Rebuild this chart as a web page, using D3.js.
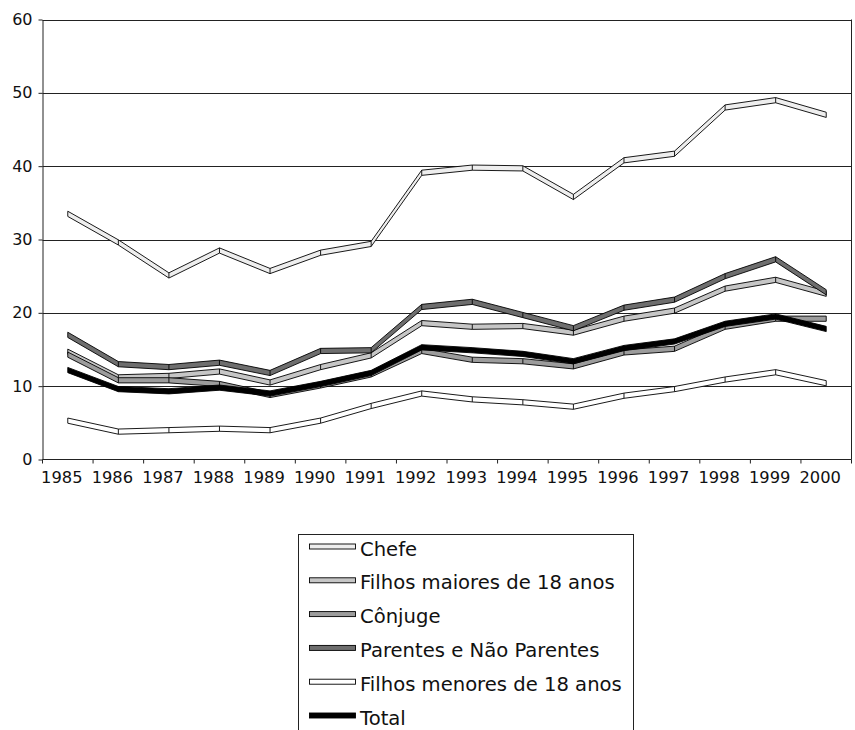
<!DOCTYPE html>
<html>
<head>
<meta charset="utf-8">
<script src="https://cdn.jsdelivr.net/npm/d3@7"></script>
<style>
  html, body { margin: 0; padding: 0; background: #fff; }
  svg { display: block; font-family: "DejaVu Sans", Verdana, sans-serif; }
</style>
</head>
<body>
<svg id="chart" width="855" height="730"></svg>
<script>
const years = ["1985","1986","1987","1988","1989","1990","1991","1992","1993","1994","1995","1996","1997","1998","1999","2000"];
const yTicks = [0, 10, 20, 30, 40, 50, 60];

const chefe          = [33.5, 29.6, 25.1, 28.5, 25.7, 28.2, 29.4, 39.1, 39.8, 39.7, 35.8, 40.8, 41.7, 48.0, 49.0, 47.0];
const filhosMaiores  = [14.7, 11.2, 11.4, 12.0, 10.5, 12.6, 14.2, 18.6, 18.1, 18.2, 17.3, 19.2, 20.3, 23.3, 24.5, 22.6];
const conjuge        = [14.3, 10.8, 10.8, 10.3,  8.8, 10.1, 11.6, 14.8, 13.6, 13.4, 12.7, 14.6, 15.1, 18.1, 19.2, 19.2];
const parentes       = [17.0, 13.0, 12.6, 13.2, 11.8, 14.8, 14.9, 20.8, 21.5, 19.7, 17.9, 20.7, 21.8, 25.0, 27.3, 22.8];
const filhosMenores  = [ 5.3,  3.8,  4.0,  4.2,  4.0,  5.3,  7.3,  9.0,  8.2,  7.8,  7.2,  8.7,  9.6, 10.9, 11.9, 10.4];
const total          = [12.2,  9.6,  9.3,  9.8,  9.0, 10.3, 11.8, 15.3, 14.9, 14.4, 13.4, 15.2, 16.1, 18.5, 19.5, 17.8];

const seriesNames  = ["Chefe", "Filhos maiores de 18 anos", "Cônjuge", "Parentes e Não Parentes", "Filhos menores de 18 anos", "Total"];
const seriesValues = [chefe, filhosMaiores, conjuge, parentes, filhosMenores, total];
const seriesFills  = ["#eeeeee", "#c6c6c6", "#9c9c9c", "#6e6e6e", "#ffffff", "#000000"];

const svg = d3.select("#chart");
const pLeft = 42.5, pRight = 851.5, pTop = 19.5, pBottom = 459.5;

const x = d3.scaleBand().domain(years).range([pLeft, pRight]).paddingInner(0).paddingOuter(0);
const y = d3.scaleLinear().domain([0, 60]).range([pBottom, pTop]);
const cx = d => x(d) + x.bandwidth() / 2;

// gridlines
svg.append("g").selectAll("line").data(yTicks.filter(t => t > 0)).join("line")
  .attr("x1", pLeft).attr("x2", pRight)
  .attr("y1", d => Math.round(y(d)) + 0.5).attr("y2", d => Math.round(y(d)) + 0.5)
  .attr("stroke", "#222").attr("stroke-width", 1);

// right border
svg.append("line").attr("x1", pRight).attr("x2", pRight).attr("y1", pTop).attr("y2", pBottom)
  .attr("stroke", "#222");

// y axis
const yAxis = svg.append("g").attr("transform", `translate(${pLeft},0)`)
  .call(d3.axisLeft(y).tickValues(yTicks).tickSize(4).tickPadding(6).tickSizeOuter(0));
yAxis.select(".domain").attr("stroke", "#222");
yAxis.selectAll(".tick line").attr("stroke", "#222");
yAxis.selectAll("text").attr("font-size", 16).attr("fill", "#111").attr("font-family", "DejaVu Sans");

// x axis: ticks at category boundaries
const xAxisG = svg.append("g").attr("transform", `translate(0,${pBottom})`);
xAxisG.append("line").attr("x1", pLeft).attr("x2", pRight).attr("y1", 0).attr("y2", 0).attr("stroke", "#222");
xAxisG.selectAll("line.tk").data(years.concat(["end"])).join("line").attr("class", "tk")
  .attr("x1", (d, i) => pLeft + i * x.bandwidth()).attr("x2", (d, i) => pLeft + i * x.bandwidth())
  .attr("y1", 0).attr("y2", 4).attr("stroke", "#222");
xAxisG.selectAll("text").data(years).join("text")
  .attr("x", d => cx(d) - 6).attr("y", 23.5)
  .attr("text-anchor", "middle").attr("font-size", 16.3).attr("fill", "#111")
  .text(d => d);

// ribbons
const half = 2.6;
const area = d3.area()
  .x((d, i) => cx(years[i]))
  .y0(d => y(d) + half)
  .y1(d => y(d) - half);

seriesValues.forEach((vals, si) => {
  const g = svg.append("g");
  g.append("path").datum(vals)
    .attr("d", area)
    .attr("fill", seriesFills[si])
    .attr("stroke", "#000")
    .attr("stroke-width", 0.9)
    .attr("stroke-linejoin", "miter");
  g.selectAll("line").data(vals.slice(1, -1)).join("line")
    .attr("x1", (d, i) => cx(years[i + 1])).attr("x2", (d, i) => cx(years[i + 1]))
    .attr("y1", d => y(d) - half).attr("y2", d => y(d) + half)
    .attr("stroke", "#000").attr("stroke-width", 0.9);
});

// legend
const lg = svg.append("g");
lg.append("rect").attr("x", 298.5).attr("y", 534.5).attr("width", 335).attr("height", 220)
  .attr("fill", "#fff").attr("stroke", "#222");
const rowY = d3.scalePoint().domain(seriesNames).range([546.5, 715.5]);
seriesNames.forEach((name, i) => {
  const yy = rowY(name);
  lg.append("rect").attr("x", 309.5).attr("y", yy - 2.5).attr("width", 46).attr("height", 5)
    .attr("fill", seriesFills[i]).attr("stroke", "#000").attr("stroke-width", 0.9);
  lg.append("text").attr("x", 360).attr("y", yy + 9)
    .attr("font-size", 19.6).attr("fill", "#111").text(name);
});
</script>
</body>
</html>
